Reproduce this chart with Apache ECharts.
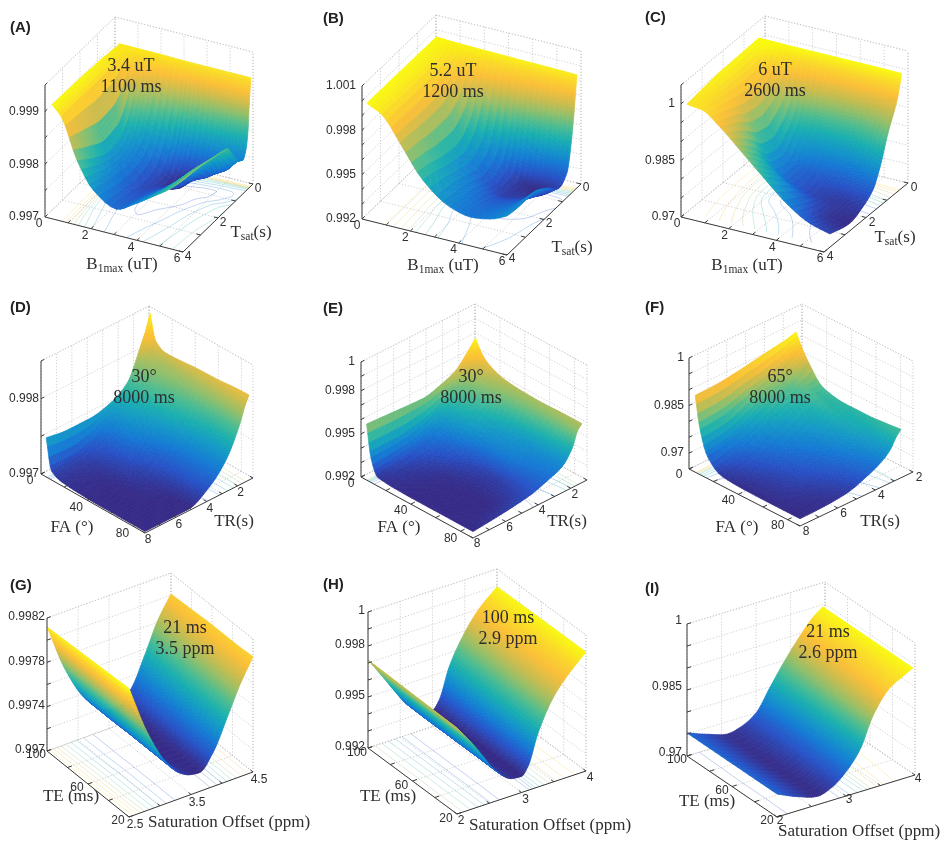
<!DOCTYPE html>
<html><head><meta charset="utf-8">
<style>html,body{margin:0;padding:0;background:#fff}#c{width:946px;height:849px}</style>
<script src="https://cdn.jsdelivr.net/npm/echarts@6/dist/echarts.min.js"></script>
</head><body><div id="c"></div>
<script>
// ---------- values ----------
const A_x=[0.3,0.7,1.4,2.1,3.1,3.8,4.7,5.4,6];
const A_y=[0.12,0.2,0.28,0.4,0.57,0.8,1.1,1.5,2.2,3,4];
const A_z=[
[.99906,.99906,.99906,.99906,.99905,.99905,.99905,.99905,.99905],
[.99906,.99905,.99903,.99898,.99892,.99885,.99878,.99872,.99867],
[.99906,.99904,.99896,.99886,.99870,.99850,.99833,.99820,.99812],
[.99907,.99903,.99885,.99868,.99840,.99815,.99795,.99785,.99778],
[.99908,.99901,.99868,.99842,.99805,.99778,.99764,.99760,.99764],
[.99909,.99899,.99838,.99812,.99775,.99745,.99735,.99745,.99772],
[.99911,.99898,.99805,.99782,.99748,.99725,.99733,.99755,.99790],
[.99912,.99897,.99785,.99765,.99732,.99718,.99748,.99785,.99815],
[.99914,.99897,.99780,.99758,.99732,.99738,.99770,.99800,.99822],
[.99915,.99898,.99795,.99763,.99740,.99752,.99780,.99808,.99830],
[.99916,.99898,.99822,.99774,.99749,.99765,.99791,.99812,.99836]];
const B_x=[0.2,0.83,1.57,2.52,3.64,4.47,5.3,6];
const B_y=[0.22,0.34,0.5,0.76,1.14,1.84,2.6,3.3,4];
const B_z=[
[.99985,.99980,.99978,.99975,.99972,.99970,.99968,.99965],
[.99986,.99972,.99955,.99930,.99900,.99870,.99830,.99780],
[.99987,.99962,.99925,.99870,.99800,.99730,.99650,.99570],
[.99988,.99950,.99870,.99720,.99560,.99440,.99370,.99366],
[.99989,.99942,.99800,.99560,.99380,.99270,.99255,.99315],
[.99990,.99938,.99760,.99480,.99340,.99285,.99300,.99394],
[.99991,.99938,.99760,.99500,.99390,.99340,.99360,.99450],
[.99991,.99938,.99770,.99540,.99415,.99375,.99395,.99450],
[.99992,.99938,.99778,.99565,.99429,.99395,.99415,.99464]];
const C_x=[0,0.63,1.39,2.23,3.19,4.32,5.16,6];
const C_y=[0.3,0.41,0.52,0.95,1.33,1.67,2.14,2.76,3.72];
const C_z=[
[1.0005,1.0005,1.0005,1.0005,1.0005,1.0005,1.0005,1.0004],
[1.0004,1.0003,.9990,.9975,.9960,.9958,.9965,.9972],
[1.0004,1.0000,.9975,.9950,.9930,.9925,.9932,.9944],
[1.0003,.9970,.9915,.9845,.9828,.9830,.9850,.9876],
[1.0002,.9965,.9895,.9810,.9785,.9775,.9785,.9803],
[1.0001,.9965,.9885,.9790,.9758,.9750,.9752,.9758],
[1.0000,.9967,.9890,.9795,.9755,.9735,.9730,.9735],
[.9995,.9972,.9915,.9840,.9790,.9750,.9727,.9720],
[.9986,.9981,.9947,.9899,.9843,.9781,.9750,.9735]];
const D_x=[4.5,9,18,31.5,45,63,76.5,90];
const D_y=[8,6.6,5.2,3.8,2.75,1.9,1.5,1.26];
const D_z=[
[.99752,.99712,.99705,.99703,.99702,.99702,.99702,.99702],
[.99748,.99712,.99706,.99703,.99702,.99702,.99702,.99702],
[.99748,.99722,.99715,.99712,.99708,.99704,.99702,.99702],
[.99755,.99748,.99745,.99735,.99725,.99720,.99720,.99718],
[.99770,.99772,.99770,.99762,.99755,.99745,.99742,.99742],
[.99809,.99795,.99790,.99785,.99782,.99778,.99776,.99778],
[.99830,.99804,.99795,.99795,.99795,.99796,.99799,.99802],
[.99847,.99815,.99806,.99807,.99809,.99810,.99812,.99813]];
const E_x=[4.5,8,13.5,27,40.5,58.5,76.5,90];
const E_y=[8,6.25,4.5,3.45,2.54,1.9,1.56,1.31];
const E_z=[
[.9959,.9937,.9926,.99248,.99245,.99245,.99245,.99245],
[.99578,.9938,.9930,.9926,.99248,.99245,.99245,.99265],
[.99568,.9943,.9936,.9932,.9929,.9927,.9928,.99295],
[.9960,.9949,.9946,.9942,.9938,.99365,.9934,.99335],
[.99645,.9957,.9954,.9950,.9945,.9941,.9939,.9938],
[.9972,.9964,.9960,.9957,.9954,.9951,.9949,.99475],
[.99765,.99695,.9963,.9960,.9958,.9957,.9957,.9958],
[.99802,.9974,.9968,.99625,.9961,.99605,.9961,.9961]];
const F_x=[5,9,15,27,45,63,76.5,90];
const F_y=[8,6.8,5.6,4.4,3.62,3.2,2.9,2.64];
const F_z=[
[.98918,.9792,.9719,.968,.9674,.9673,.9673,.9673],
[.9895,.9800,.9735,.9705,.9690,.9684,.9678,.9675],
[.9905,.9825,.9770,.9738,.9715,.9700,.9690,.9682],
[.9918,.9845,.9805,.9772,.9745,.9728,.9715,.9707],
[.9926,.9862,.9812,.9790,.9770,.9755,.9742,.9732],
[.9930,.9880,.9835,.9805,.9785,.9772,.9762,.9755],
[.9935,.9890,.9850,.9800,.9786,.9782,.9782,.9785],
[.99395,.9905,.9865,.9808,.9793,.9793,.9797,.98027]];
const G_x=[100,80,60,40,20];
const G_y=[2.5,2.79,3.1,3.32,3.5,3.64,3.86,4.08,4.29,4.5];
const G_z=[
[.99812,.99813,.99814,.99815,.99816],
[.99768,.99769,.99770,.99770,.99771],
[.99736,.99736,.99737,.99737,.99737],
[.99723,.99723,.99723,.99723,.99723],
[.99717,.99717,.99717,.99717,.99718],
[.99717,.99717,.99717,.99717,.99717],
[.99729,.99730,.99730,.99731,.99731],
[.99755,.99755,.99756,.99756,.99757],
[.99782,.99782,.99783,.99783,.99783],
[.99801,.99802,.99803,.99803,.99804]];
const H_x=[100,80,60,40,20];
const H_y=[2,2.28,2.4,2.6,2.86,3,3.1,3.26,3.5,3.72,4];
const H_z=[
[.99718,.99715,.99712,.99709,.99706],
[.99560,.99560,.99560,.99560,.99560],
[.99490,.99490,.99490,.99490,.99490],
[.99382,.99380,.99380,.99380,.99378],
[.99300,.99300,.99300,.99300,.99300],
[.99295,.99295,.99295,.99295,.99295],
[.99340,.99340,.99340,.99340,.99340],
[.99520,.99520,.99520,.99520,.99520],
[.99690,.99690,.99695,.99700,.99700],
[.99800,.99800,.99800,.99800,.99800],
[.99895,.99897,.99898,.99899,.99900]];
const I_x=[100,80,60,40,20];
const I_y=[2,2.3,2.6,2.8,3,3.2,3.4,3.64,3.84,3.97];
const I_z=[
[.97523,.97523,.97523,.97523,.97523],
[.9735,.9734,.9733,.9733,.9732],
[.9722,.9721,.9720,.9720,.9719],
[.9730,.9730,.9730,.9730,.9730],
[.9750,.9749,.9750,.9752,.9755],
[.9798,.9796,.9795,.9795,.9795],
[.9845,.9850,.9855,.9860,.9866],
[.9895,.9900,.9905,.9910,.9916],
[.9930,.9930,.9930,.9932,.9934],
[.9945,.9945,.9945,.9945,.9945]];
const tickSets={
 A:{x:[0,1,2,3,4,5,6],y:[0,1,2,3,4],z:[.997,.9975,.998,.9985,.999,.9995]},
 B:{x:[0,1,2,3,4,5,6],y:[0,1,2,3,4],z:[.992,.993,.994,.995,.996,.997,.998,.999,1,1.001]},
 C:{x:[0,1,2,3,4,5,6],y:[0,1,2,3,4],z:[.97,.975,.98,.985,.99,.995,1,1.005]},
 D:{x:[0,20,40,60,80],y:[1,2,3,4,5,6,7,8],z:[.997,.9975,.998,.9985]},
 E:{x:[0,20,40,60,80],y:[1,2,3,4,5,6,7,8],z:[.992,.993,.994,.995,.996,.997,.998,.999,1]},
 F:{x:[0,20,40,60,80],y:[2,3,4,5,6,7,8],z:[.965,.97,.975,.98,.985,.99,.995,1]},
 G:{x:[20,40,60,80,100],y:[2.5,3,3.5,4,4.5],z:[.997,.9972,.9974,.9976,.9978,.998,.9982]},
 H:{x:[20,40,60,80,100],y:[2,2.5,3,3.5,4],z:[.992,.993,.994,.995,.996,.997,.998,.999,1]},
 I:{x:[20,40,60,80,100],y:[2,2.5,3,3.5,4],z:[.97,.975,.98,.985,.99,.995,1]}
};
const labelSets={
 A:{x:[0,2,4,6],y:[0,2,4],z:[[.997,'0.997'],[.998,'0.998'],[.999,'0.999']]},
 B:{x:[0,2,4,6],y:[0,2,4],z:[[.992,'0.992'],[.995,'0.995'],[.998,'0.998'],[1.001,'1.001']]},
 C:{x:[0,2,4,6],y:[0,2,4],z:[[.97,'0.97'],[.985,'0.985'],[1,'1']]},
 D:{x:[0,40,80],y:[2,4,6,8],z:[[.997,'0.997'],[.998,'0.998']]},
 E:{x:[0,40,80],y:[2,4,6,8],z:[[.992,'0.992'],[.995,'0.995'],[.998,'0.998'],[1,'1']]},
 F:{x:[0,40,80],y:[2,4,6,8],z:[[.97,'0.97'],[.985,'0.985'],[1,'1']]},
 G:{x:[20,60,100],y:[2.5,3.5,4.5],z:[[.997,'0.997'],[.9974,'0.9974'],[.9978,'0.9978'],[.9982,'0.9982']]},
 H:{x:[20,60,100],y:[2,3,4],z:[[.992,'0.992'],[.995,'0.995'],[.998,'0.998'],[1,'1']]},
 I:{x:[20,60,100],y:[2,3,4],z:[[.97,'0.97'],[.985,'0.985'],[1,'1']]}
};
const notes={A:['3.4 uT','1100 ms'],B:['5.2 uT','1200 ms'],C:['6 uT','2600 ms'],D:['30°','8000 ms'],E:['30°','8000 ms'],F:['65°','8000 ms'],G:['21 ms','3.5 ppm'],H:['100 ms','2.9 ppm'],I:['21 ms','2.6 ppm']};
const axisNames={
 bt:['{b|B}{s|1max}{b| (uT)}','{b|T}{s|sat}{b|(s)}'],
 ft:['{b|FA (°)}','{b|TR(s)}'],
 ts:['{b|TE (ms)}','{b|Saturation Offset (ppm)}']
};
// ---------- view of each panel: box corners, axis limits, text places ----------
const views={
 A:{names:'bt',L:[45,217],F:[183,252],R:[253,184],H:132,xr:[0,6],yr:[4,0],zr:[.997,.9995],xo:[-6,7],yo:[5,5],zo:[-6,0],xn:[122,265],yn:[251,233],nt:[131,66],tt:[10,20],box:[0,0,310,285]},
 B:{names:'bt',L:[362,219],F:[507,255],R:[581,184],H:133,xr:[0,6],yr:[4,0],zr:[.992,1.001],xo:[-5,7],yo:[5,4],zo:[-6,0],xn:[443,266],yn:[572,248],nt:[453,71],tt:[323,11],box:[310,0,320,285]},
 C:{names:'bt',L:[681,217],F:[824,252],R:[908,183],H:132,xr:[0,6],yr:[4,0],zr:[.97,1.005],xo:[-4,7],yo:[6,5],zo:[-6,0],xn:[747,266],yn:[895,238],nt:[775,70],tt:[645,10],box:[630,0,316,285]},
 D:{names:'ft',L:[41,474],F:[145,533],R:[253,478],H:113,xr:[0,90],yr:[8,1],zr:[.997,.9985],xo:[-11,7],yo:[3,7],zo:[-2,0],xn:[72,528],yn:[234,522],nt:[144,377],tt:[10,300],box:[0,290,310,270]},
 E:{names:'ft',L:[361,477],F:[473,538],R:[587,480],H:115,xr:[0,90],yr:[8,1],zr:[.992,1],xo:[-10,7],yo:[4,6],zo:[-6,0],xn:[399,528],yn:[567,522],nt:[471,377],tt:[323,301],box:[310,290,320,270]},
 F:{names:'ft',L:[689,469],F:[800,526],R:[913,472],H:111,xr:[0,90],yr:[8,2],zr:[.965,1],xo:[-10,6],yo:[6,6],zo:[-5,0],xn:[737,528],yn:[880,522],nt:[780,377],tt:[645,300],box:[630,290,316,270]},
 G:{names:'ts',L:[47,751],F:[129,817],R:[253,772],H:133,xr:[100,20],yr:[2.5,4.5],zr:[.997,.9982],xo:[-11,4],yo:[6,8],zo:[-2,-1],xn:[71,797],yn:[229,823],nt:[185,628],tt:[10,578],box:[0,565,315,284]},
 H:{names:'ts',L:[368,748],F:[457,814],R:[586,771],H:136,xr:[100,20],yr:[2,4],zr:[.992,1],xo:[-11,5],yo:[4,7],zo:[-3,-1],xn:[388,797],yn:[550,826],nt:[508,618],tt:[323,577],box:[315,565,315,284]},
 I:{names:'ts',L:[687,756],F:[777,817],R:[915,775],H:132,xr:[100,20],yr:[2,4],zr:[.97,1],xo:[-10,4],yo:[3,4],zo:[-5,-3],xn:[707,802],yn:[859,832],nt:[828,632],tt:[645,581],box:[630,565,316,284]}
};
const sources={A:[A_x,A_y,A_z],B:[B_x,B_y,B_z],C:[C_x,C_y,C_z],D:[D_x,D_y,D_z],E:[E_x,E_y,E_z],F:[F_x,F_y,F_z],G:[G_x,G_y,G_z],H:[H_x,H_y,H_z],I:[I_x,I_y,I_z]};

// ---------- helpers ----------
const SUBC=4, SUBR=12, TICK='#3c3c3c', LABEL='#2e2e2e', GRIDC='#c4c4c4';
const SANS='"Liberation Sans",Arial,sans-serif', SERIF='"Liberation Serif","Times New Roman",serif';
const parula=[[53,42,135],[38,82,200],[20,120,212],[18,150,200],[25,175,175],[75,188,145],[145,190,105],[205,188,75],[250,190,55],[250,215,40],[249,251,14]];
function cmap(t,op){
  t=Math.max(0,Math.min(1,t))*(parula.length-1);
  const i=Math.min(parula.length-2,Math.floor(t)),f=t-i,a=parula[i],b=parula[i+1];
  const c=[0,1,2].map(k=>Math.round(a[k]+(b[k]-a[k])*f));
  return op==null?`rgb(${c})`:`rgba(${c},${op})`;
}
// smooth drawing of a cell between the read values (shape-preserving cubic)
function slopes(t,v){
  const n=t.length,d=[],m=new Array(n).fill(0);
  for(let i=0;i<n-1;i++)d.push((v[i+1]-v[i])/(t[i+1]-t[i]));
  m[0]=d[0];m[n-1]=d[n-2];
  for(let i=1;i<n-1;i++){
    if(d[i-1]*d[i]<=0)m[i]=0;
    else{const h0=t[i]-t[i-1],h1=t[i+1]-t[i],w0=2*h1+h0,w1=h1+2*h0;m[i]=(w0+w1)/(w0/d[i-1]+w1/d[i]);}
  }
  return m;
}
function hermite(t,v,m,i,u){
  const h=t[i+1]-t[i],u2=u*u,u3=u2*u;
  return (2*u3-3*u2+1)*v[i]+(u3-2*u2+u)*h*m[i]+(-2*u3+3*u2)*v[i+1]+(u3-u2)*h*m[i+1];
}
function refine(key){
  const v=views[key],[xs,ys,zs]=sources[key];
  const ra=x=>(x-v.xr[0])/(v.xr[1]-v.xr[0]), rc=y=>(y-v.yr[0])/(v.yr[1]-v.yr[0]);
  const rows=ys.map((y,i)=>i).sort((p,q)=>rc(ys[q])-rc(ys[p]));
  const as=xs.map(ra), cs=rows.map(i=>rc(ys[i])), Z=rows.map(i=>zs[i]);
  const nr=cs.length,nc=as.length;
  const rowFine=Z.map(r=>{
    const m=slopes(as,r),o=[];
    for(let i=0;i<nc-1;i++)for(let s=0;s<SUBC;s++)o.push(hermite(as,r,m,i,s/SUBC));
    o.push(r[nc-1]);return o;
  });
  const nf=(nc-1)*SUBC+1, fine=[];
  for(let i=0;i<(nr-1)*SUBR+1;i++)fine.push(new Array(nf));
  const ne=cs.map(c=>-c);
  for(let j=0;j<nf;j++){
    const ci=Math.min(nc-2,Math.floor(j/SUBC)),ct=j/SUBC-ci,a=as[ci]+(as[ci+1]-as[ci])*ct;
    const col=rowFine.map(r=>r[j]),m=slopes(ne,col);
    for(let i=0;i<nr-1;i++)for(let s=0;s<=SUBR;s++){
      fine[i*SUBR+s][j]={a,c:cs[i]+(cs[i+1]-cs[i])*s/SUBR,z:hermite(ne,col,m,i,s/SUBR)};
    }
  }
  const flat=zs.flat();
  return {fine,nr,nc,zMin:Math.min(...flat),zMax:Math.max(...flat),ra,rc};
}
function projector(v){
  return (a,c,z)=>{
    const h=(z-v.zr[0])/(v.zr[1]-v.zr[0])*v.H;
    return [v.F[0]+(v.L[0]-v.F[0])*(1-a)+(v.R[0]-v.F[0])*c, v.F[1]+(v.L[1]-v.F[1])*(1-a)+(v.R[1]-v.F[1])*c-h];
  };
}
function segs(list,api){
  return list.map(s=>{const p=api.coord(s[0]),q=api.coord(s[1]);return `M${p[0].toFixed(2)} ${p[1].toFixed(2)}L${q[0].toFixed(2)} ${q[1].toFixed(2)}`;}).join('');
}
function contours(R,P,z0,api){
  const out=[],f=R.fine,N=10;
  for(let l=1;l<N;l++){
    const lev=R.zMin+(R.zMax-R.zMin)*l/N,list=[];
    for(let i=0;i<f.length-1;i++)for(let j=0;j<f[0].length-1;j++){
      const q=[f[i][j],f[i][j+1],f[i+1][j+1],f[i+1][j]],pts=[];
      for(let k=0;k<4;k++){
        const u=q[k],w=q[(k+1)%4];
        if((u.z<lev)!==(w.z<lev)){const t=(lev-u.z)/(w.z-u.z);pts.push(P(u.a+(w.a-u.a)*t,u.c+(w.c-u.c)*t,z0));}
      }
      if(pts.length>=2)list.push([pts[0],pts[1]]);
      if(pts.length===4)list.push([pts[2],pts[3]]);
    }
    if(list.length)out.push({type:'path',shape:{pathData:segs(list,api)},style:{fill:null,stroke:cmap(l/N,0.34),lineWidth:0.8}});
  }
  return out;
}
// ---------- build the option ----------
const grids=[],xAxes=[],yAxes=[],series=[],titles=[];
Object.keys(views).forEach((key,idx)=>{
  const v=views[key],R=refine(key),P=projector(v),T=tickSets[key],Lb=labelSets[key];
  const [bx,by,bw,bh]=v.box;
  grids.push({left:bx,top:by,width:bw,height:bh,show:false,containLabel:false});
  xAxes.push({gridIndex:idx,type:'value',min:bx,max:bx+bw,show:false});
  yAxes.push({gridIndex:idx,type:'value',min:by,max:by+bh,inverse:true,show:false});
  titles.push({text:'('+key+')',left:v.tt[0],top:v.tt[1],padding:0,textStyle:{fontFamily:SANS,fontWeight:'bold',fontSize:15,color:'#222'}});
  const common={type:'custom',coordinateSystem:'cartesian2d',xAxisIndex:idx,yAxisIndex:idx,clip:false,silent:true,animation:false,progressive:0};
  const [z0,z1]=v.zr;
  series.push(Object.assign({},common,{name:key+' frame',z:1,data:[[bx,by]],renderItem(params,api){
    const d=[];
    T.x.forEach(t=>{const a=R.ra(t);d.push([P(a,0,z0),P(a,1,z0)],[P(a,1,z0),P(a,1,z1)]);});
    T.y.forEach(t=>{const c=R.rc(t);d.push([P(0,c,z0),P(1,c,z0)],[P(0,c,z0),P(0,c,z1)]);});
    T.z.forEach(t=>{d.push([P(0,0,t),P(0,1,t)],[P(0,1,t),P(1,1,t)]);});
    d.push([P(0,0,z1),P(0,1,z1)],[P(0,1,z1),P(1,1,z1)],[P(1,1,z0),P(1,1,z1)],[P(0,1,z0),P(0,1,z1)],[P(0,1,z0),P(1,1,z0)],[P(0,1,z0),P(0,0,z0)]);
    return {type:'group',children:[
      {type:'path',shape:{pathData:segs(d,api)},style:{fill:null,stroke:GRIDC,lineWidth:0.8,lineDash:[1.2,1.8]}},
      ...contours(R,P,z0,api)
    ]};
  }}));
  const cells=[];
  for(let i=0;i<R.nr-1;i++)for(let j=0;j<R.nc-1;j++)cells.push([i,j]);
  series.push(Object.assign({},common,{name:key+' surface',z:2,data:cells,renderItem(params,api){
    const ci=api.value(0),cj=api.value(1),kids=[],f=R.fine;
    for(let i=ci*SUBR;i<(ci+1)*SUBR;i++)for(let j=cj*SUBC;j<(cj+1)*SUBC;j++){
      const q=[f[i][j],f[i][j+1],f[i+1][j+1],f[i+1][j]];
      const m=(q[0].z+q[1].z+q[2].z+q[3].z)/4,col=cmap((m-R.zMin)/(R.zMax-R.zMin));
      kids.push({type:'polygon',shape:{points:q.map(n=>api.coord(P(n.a,n.c,n.z)))},style:{fill:col,stroke:col,lineWidth:0.7}});
    }
    return {type:'group',children:kids};
  }}));
  series.push(Object.assign({},common,{name:key+' axes',z:3,data:[[bx,by]],renderItem(params,api){
    const d=[[P(0,0,z0),P(1,0,z0)],[P(1,0,z0),P(1,1,z0)],[P(0,0,z0),P(0,0,z1)]];
    T.x.forEach(t=>{const a=R.ra(t);d.push([P(a,0,z0),P(a,0.035,z0)]);});
    T.y.forEach(t=>{const c=R.rc(t);d.push([P(1,c,z0),P(0.97,c,z0)]);});
    T.z.forEach(t=>{d.push([P(0,0,t),P(0,0.03,t)]);});
    const kids=[{type:'path',shape:{pathData:segs(d,api)},style:{fill:null,stroke:TICK,lineWidth:1}}];
    const put=(pos,text,align,font)=>{const p=api.coord(pos);kids.push({type:'text',x:p[0],y:p[1],style:{text,font:font||('12px '+SANS),fill:LABEL,align:align||'center',verticalAlign:'middle'}});};
    Lb.x.forEach(t=>{const p=P(R.ra(t),0,z0);put([p[0]+v.xo[0],p[1]+v.xo[1]],String(t));});
    Lb.y.forEach(t=>{const p=P(1,R.rc(t),z0);put([p[0]+v.yo[0],p[1]+v.yo[1]],String(t));});
    Lb.z.forEach(e=>{const p=P(0,0,e[0]);put([p[0]+v.zo[0],p[1]+v.zo[1]],e[1],'right');});
    const rich={b:{font:'17px '+SERIF,fill:LABEL,color:LABEL},s:{font:'11.5px '+SERIF,fill:LABEL,color:LABEL,verticalAlign:'bottom',padding:[7,0,0,0]}};
    const nm=axisNames[v.names];
    [[v.xn,nm[0]],[v.yn,nm[1]]].forEach(([pos,text])=>{const p=api.coord(pos);kids.push({type:'text',x:p[0],y:p[1],style:{text,rich,align:'center',verticalAlign:'middle'}});});
    notes[key].forEach((t,i)=>{put([v.nt[0],v.nt[1]+i*21],t,'center','18px '+SERIF);});
    return {type:'group',children:kids};
  }}));
});
const chart=echarts.init(document.getElementById('c'),null,{width:946,height:849,devicePixelRatio:1});
chart.setOption({animation:false,backgroundColor:'#fff',title:titles,grid:grids,xAxis:xAxes,yAxis:yAxes,series});
</script></body></html>
